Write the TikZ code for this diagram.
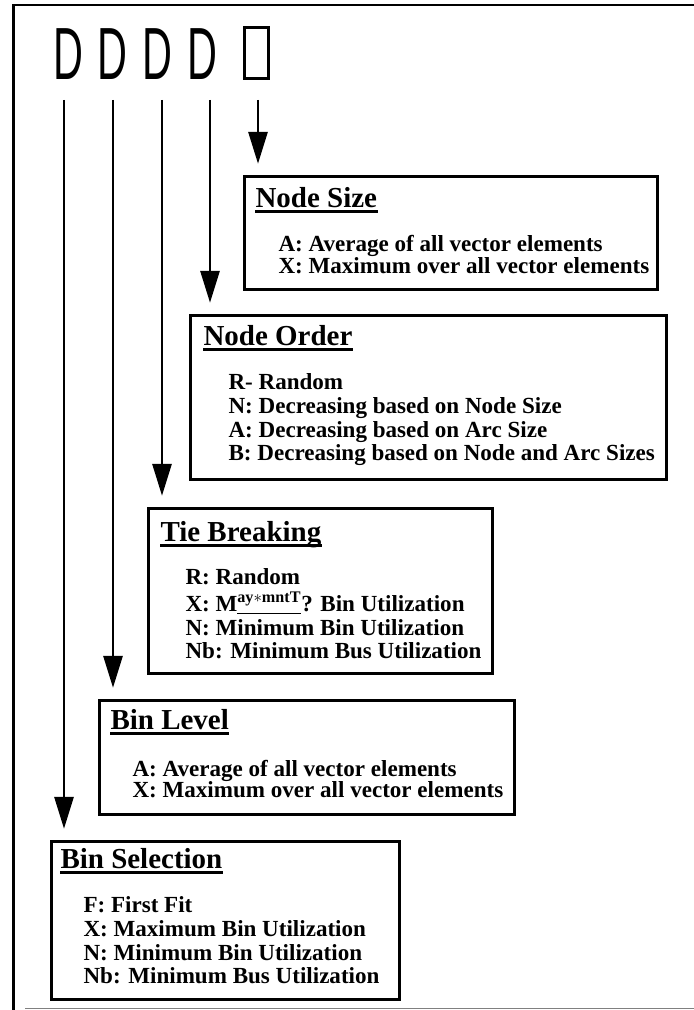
\documentclass[tikz,border=0pt]{standalone}
\usepackage{fontspec}
\setmainfont{Liberation Serif}
\newfontfamily\keyfont{Liberation Sans}
\usetikzlibrary{arrows.meta}
\newcommand{\entrylist}[1]{\begin{tabular}[t]{@{}l@{}}#1\end{tabular}}

\begin{document}
\begin{tikzpicture}[thick,
  frame/.style={line width=2.1pt},
  panel/.style={draw, line width=2.1pt, anchor=north west, inner sep=0pt},
  flow/.style={line width=2.1pt, -{Triangle[length=0.8cm,width=0.475cm]}, shorten >=0.28cm},
  letter/.style={inner sep=0pt, font=\keyfont\fontsize{52.6pt}{60pt}\selectfont},
  heading/.style={anchor=base west, inner sep=0pt, font=\bfseries\fontsize{20.6pt}{24pt}\selectfont},
  entries/.style={anchor=base west, inner sep=0pt, font=\bfseries\fontsize{16.4pt}{16.8pt}\selectfont}]
\useasboundingbox (0,0) rectangle (17.35,25.25);
\draw[frame] (0.34,0) -- (0.34,25.125) -- (17.35,25.125);
\draw[gray, line width=0.7pt] (0.625,0.05) -- (17.35,0.05);

% the code letters
\node[letter] (selD) at (1.7,23.91) {\scalebox{0.56}[1]{D}};
\node[letter] (levD) at (2.81,23.91) {\scalebox{0.56}[1]{D}};
\node[letter] (tieD) at (3.94,23.91) {\scalebox{0.56}[1]{D}};
\node[letter] (ordD) at (5.06,23.91) {\scalebox{0.56}[1]{D}};
\node[draw, line width=2.1pt, minimum width=0.6cm, minimum height=1.275cm, inner sep=0pt] (sizeD) at (6.41,23.925) {};

% one box per letter
\node[panel, minimum width=10.325cm, minimum height=2.825cm] (sizebox) at (6.075,20.875) {};
\node[panel, minimum width=11.9cm, minimum height=4.1cm] (ordbox) at (4.725,17.4) {};
\node[panel, minimum width=8.6cm, minimum height=4.125cm] (tiebox) at (3.675,12.575) {};
\node[panel, minimum width=10.375cm, minimum height=2.85cm] (levbox) at (2.45,7.775) {};
\node[panel, minimum width=8.7cm, minimum height=3.95cm] (selbox) at (1.25,4.25) {};

\node[heading] (sizettl) at (6.375,20.05) {Node Size};
\node[heading] (ordttl) at (5.075,16.6) {Node Order};
\node[heading] (tiettl) at (4.0,11.7) {Tie Breaking};
\node[heading] (levttl) at (2.75,7.0) {Bin Level};
\node[heading] (selttl) at (1.5,3.525) {Bin Selection};
\foreach \t in {sizettl,ordttl,tiettl,levttl,selttl}
  \draw[line width=2.1pt] ([yshift=-2.5pt]\t.base west) -- ([yshift=-2.5pt]\t.base east);

\node[entries] (sizetxt) at (6.95,18.95) {\entrylist{A: Average of all vector elements\\[-1.4pt]
  X: Maximum over all vector elements}};
\node[entries] (ordtxt) at (5.7,15.5) {\entrylist{R- Random\\
  N: Decreasing based on Node Size\\
  A: Decreasing based on Arc Size\\
  B: Decreasing based on Node and Arc Sizes}};
\node[entries] (tietxt) at (4.625,10.625) {\entrylist{R: Random\\
  X: M\underline{\textsuperscript{ay$\ast$mntT}}? Bin Utilization\\
  N: Minimum Bin Utilization\\
  Nb: Minimum Bus Utilization}};
\node[entries] (levtxt) at (3.3,5.825) {\entrylist{A: Average of all vector elements\\[-2.5pt]
  X: Maximum over all vector elements}};
\node[entries] (seltxt) at (2.075,2.425) {\entrylist{F: First Fit\\
  X: Maximum Bin Utilization\\
  N: Minimum Bin Utilization\\
  Nb: Minimum Bus Utilization}};

% arrows from the letters
\coordinate (selTop) at (1.6,22.75);
\coordinate (levTop) at (2.825,22.75);
\coordinate (tieTop) at (4.05,22.75);
\coordinate (ordTop) at (5.25,22.75);
\coordinate (sizeTop) at (6.45,22.75);
\draw[flow] (selTop) -- (selTop |- selbox.north);
\draw[flow] (levTop) -- (levTop |- levbox.north);
\draw[flow] (tieTop) -- (tieTop |- tiebox.north);
\draw[flow] (ordTop) -- (ordTop |- ordbox.north);
\draw[flow] (sizeTop) -- (sizeTop |- sizebox.north);
\end{tikzpicture}
\end{document}
